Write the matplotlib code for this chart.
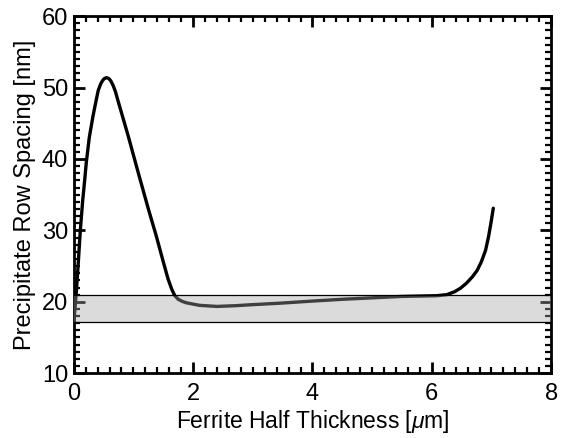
import numpy as np
import matplotlib
matplotlib.use('Agg')
import matplotlib.pyplot as plt
from matplotlib.ticker import MultipleLocator

plt.rcParams['font.family'] = ['Liberation Sans', 'DejaVu Sans']
plt.rcParams['mathtext.fontset'] = 'custom'
plt.rcParams['mathtext.it'] = 'Liberation Sans:italic'

# curve
thickness = [0.0, 0.02, 0.045, 0.08, 0.11, 0.15, 0.185, 0.21, 0.26, 0.32, 0.37,
             0.41, 0.45, 0.48, 0.51, 0.55, 0.59, 0.62, 0.66, 0.70, 0.74, 0.91,
             1.08, 1.25, 1.38, 1.50, 1.58, 1.64, 1.69, 1.75, 1.82, 1.89, 2.11,
             2.40, 2.70, 3.00, 3.45, 4.00, 4.50, 5.00, 5.50, 5.80, 6.08, 6.25,
             6.38, 6.48, 6.58, 6.68, 6.76, 6.83, 6.90, 6.95, 6.99, 7.03]
spacing = [17.0, 19.0, 21.6, 26.0, 30.0, 34.2, 37.2, 39.5, 43.0, 45.9, 48.0,
           49.6, 50.5, 50.95, 51.25, 51.4, 51.25, 50.95, 50.3, 49.4, 48.2, 43.3,
           38.1, 33.0, 29.3, 25.6, 23.2, 21.8, 20.9, 20.35, 20.05, 19.85, 19.5,
           19.35, 19.45, 19.6, 19.8, 20.1, 20.35, 20.55, 20.75, 20.8, 20.85, 21.0,
           21.4, 21.9, 22.6, 23.5, 24.4, 25.6, 27.2, 29.1, 31.0, 33.1]

band_low = 17.1
band_high = 21.0

fig = plt.figure(figsize=(5.63, 4.38), dpi=100)
ax = fig.add_axes([0.131, 0.148, 0.848, 0.815])

ax.plot(thickness, spacing, color='black', lw=2.4, zorder=2,
        solid_capstyle='round', solid_joinstyle='round')
ax.axhspan(band_low, band_high, facecolor='#a3a3a3', alpha=0.39,
           edgecolor='none', zorder=3)
ax.axhline(band_low, color='black', lw=0.9, zorder=4)
ax.axhline(band_high, color='black', lw=0.9, zorder=4)

ax.set_xlim(0, 8)
ax.set_ylim(10, 60)
ax.xaxis.set_major_locator(MultipleLocator(2))
ax.xaxis.set_minor_locator(MultipleLocator(0.2))
ax.yaxis.set_major_locator(MultipleLocator(10))
ax.yaxis.set_minor_locator(MultipleLocator(1))
ax.tick_params(which='both', direction='in', top=True, right=True,
               labelsize=17, width=1.6)
ax.tick_params(which='major', length=8, width=2)
ax.tick_params(which='minor', length=4)
ax.tick_params(axis='x', pad=7)
ax.tick_params(axis='y', pad=4)
for s in ax.spines.values():
    s.set_linewidth(2)

ax.set_xlabel(r'Ferrite Half Thickness [$\mu$m]', fontsize=16.5, labelpad=2)
ax.set_ylabel('Precipitate Row Spacing [nm]', fontsize=17, labelpad=4)

fig.savefig('out.png', dpi=100)
